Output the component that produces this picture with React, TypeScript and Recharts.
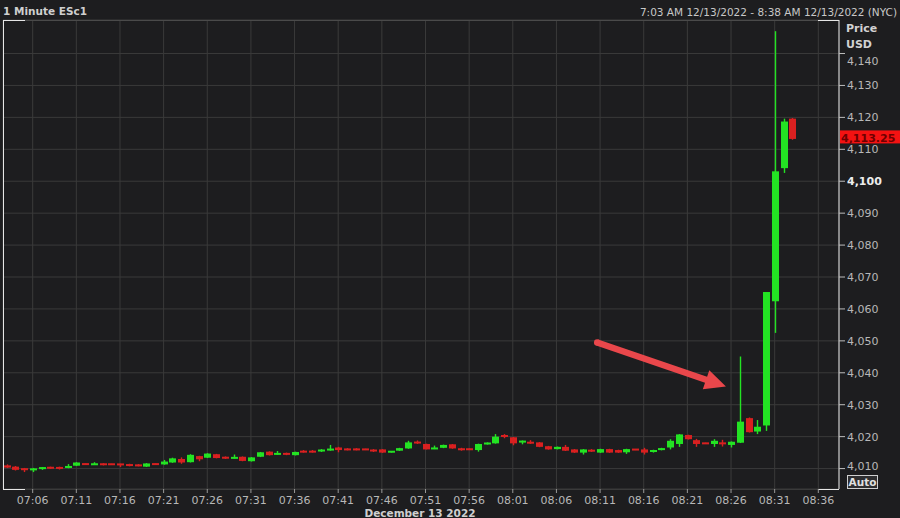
import React from 'react';
import { ComposedChart, Bar, XAxis, YAxis, CartesianGrid, ReferenceLine } from 'recharts';

// ---- data ----
const times = [
  '07:03','07:04','07:05','07:06','07:07','07:08','07:09','07:10','07:11','07:12',
  '07:13','07:14','07:15','07:16','07:17','07:18','07:19','07:20','07:21','07:22',
  '07:23','07:24','07:25','07:26','07:27','07:28','07:29','07:30','07:31','07:32',
  '07:33','07:34','07:35','07:36','07:37','07:38','07:39','07:40','07:41','07:42',
  '07:43','07:44','07:45','07:46','07:47','07:48','07:49','07:50','07:51','07:52',
  '07:53','07:54','07:55','07:56','07:57','07:58','07:59','08:00','08:01','08:02',
  '08:03','08:04','08:05','08:06','08:07','08:08','08:09','08:10','08:11','08:12',
  '08:13','08:14','08:15','08:16','08:17','08:18','08:19','08:20','08:21','08:22',
  '08:23','08:24','08:25','08:26','08:27','08:28','08:29','08:30','08:31','08:32',
  '08:33',
];
const opens = [
  4011.0,4010.6,4010.0,4009.5,4009.9,4010.4,4010.5,4010.2,4010.9,4011.5,
  4011.3,4011.4,4011.4,4011.4,4011.2,4011.1,4010.6,4011.5,4011.3,4011.9,
  4013.0,4012.0,4013.9,4013.4,4014.5,4013.5,4013.2,4013.7,4012.3,4013.7,
  4015.3,4014.4,4014.9,4014.2,4015.4,4015.4,4015.5,4015.7,4016.6,4016.1,
  4016.1,4016.1,4015.8,4016.0,4015.2,4015.6,4016.3,4018.3,4017.7,4016.2,
  4016.5,4017.6,4016.1,4016.1,4015.8,4017.6,4017.9,4020.3,4019.8,4018.2,
  4018.3,4018.2,4017.0,4016.1,4016.8,4016.0,4015.0,4015.7,4015.0,4016.1,
  4015.8,4015.1,4016.0,4016.0,4015.2,4015.8,4016.6,4017.7,4020.5,4018.9,
  4018.0,4017.7,4018.0,4017.4,4018.1,4025.8,4021.6,4023.5,4062.4,4104.1,
  4119.6,
];
const highs = [
  4011.3,4010.8,4010.2,4010.2,4010.5,4010.6,4010.6,4011.4,4012.0,4011.6,
  4012.0,4011.7,4011.5,4011.5,4011.5,4011.4,4011.7,4011.6,4012.7,4013.4,
  4013.5,4014.5,4014.0,4014.8,4014.6,4013.8,4014.4,4013.8,4013.6,4015.2,
  4015.4,4015.5,4015.0,4015.3,4015.8,4015.8,4016.1,4017.4,4016.8,4016.4,
  4016.4,4016.2,4016.1,4016.1,4015.4,4016.5,4018.7,4018.8,4017.8,4017.2,
  4017.5,4017.7,4016.5,4016.3,4017.8,4018.2,4020.8,4020.8,4019.9,4018.8,
  4018.9,4018.3,4017.1,4016.9,4017.4,4016.1,4016.1,4016.1,4016.2,4016.2,
  4015.9,4016.2,4016.1,4016.5,4015.9,4016.5,4019.2,4020.8,4020.6,4019.3,
  4018.1,4019.2,4019.0,4018.5,4045.1,4026.0,4025.2,4065.3,4147.0,4119.6,
  4119.8,
];
const lows = [
  4010.2,4009.4,4008.9,4008.9,4009.6,4009.9,4009.7,4010.1,4010.8,4011.2,
  4011.2,4011.0,4011.2,4010.5,4010.7,4010.7,4010.5,4011.2,4011.2,4011.8,
  4011.5,4011.9,4012.3,4013.3,4013.2,4013.0,4013.1,4012.3,4012.2,4013.6,
  4014.1,4014.3,4014.2,4014.1,4015.0,4015.0,4015.2,4015.6,4015.1,4015.7,
  4015.7,4015.8,4015.2,4014.9,4015.0,4015.5,4016.2,4017.7,4016.0,4016.1,
  4016.4,4016.2,4015.6,4015.8,4015.3,4017.5,4017.8,4019.5,4017.3,4017.6,
  4017.7,4016.7,4015.9,4016.0,4015.5,4014.9,4014.4,4015.2,4014.9,4014.9,
  4014.9,4014.6,4015.8,4014.4,4015.0,4015.7,4016.0,4016.8,4019.1,4016.8,
  4017.7,4016.8,4016.9,4016.6,4018.0,4021.3,4020.8,4021.8,4052.5,4102.6,
  4113.0,
];
const closes = [
  4010.3,4009.6,4009.6,4010.0,4010.4,4010.1,4009.9,4010.8,4011.9,4011.3,
  4011.4,4011.3,4011.3,4011.2,4011.0,4010.9,4011.6,4011.3,4012.2,4013.2,
  4011.9,4014.3,4012.9,4014.7,4013.3,4013.3,4013.5,4012.4,4013.5,4015.1,
  4014.2,4014.8,4014.3,4015.2,4015.2,4015.2,4015.8,4016.2,4015.8,4015.9,
  4015.9,4015.9,4015.5,4015.0,4015.35,4016.4,4018.2,4018.0,4016.0,4016.4,
  4017.4,4016.3,4016.0,4016.0,4017.7,4018.1,4020.0,4020.1,4017.9,4018.7,
  4017.9,4016.8,4016.0,4016.8,4015.6,4015.0,4016.0,4015.5,4016.1,4015.0,
  4015.0,4016.1,4015.9,4015.0,4015.8,4016.4,4018.7,4020.7,4019.2,4017.7,
  4017.8,4018.7,4017.8,4018.4,4024.7,4021.4,4023.1,4065.3,4103.1,4118.7,
  4113.25,
];
const xTickLabels = [
  '07:06','07:11','07:16','07:21','07:26','07:31','07:36','07:41','07:46','07:51',
  '07:56','08:01','08:06','08:11','08:16','08:21','08:26','08:31','08:36',
];
const yTicks = [4010,4020,4030,4040,4050,4060,4070,4080,4090,4100,4110,4120,4130,4140];
const lastPrice = 4113.25;
const arrowFrom = { time: '08:10:40', price: 4049.5 };
const arrowTo = { time: '08:25:25', price: 4035.7 };
const titleText = '1 Minute ESc1';
const rangeText = '7:03 AM 12/13/2022 - 8:38 AM 12/13/2022 (NYC)';
const dateText = 'December 13 2022';

// ---- helpers ----
const toMin = (s: string) => {
  const p = s.split(':').map(Number);
  return p[0] * 60 + p[1] + (p[2] || 0) / 60;
};
const fmtNum = (v: number) => v.toLocaleString('en-US');

const data = times.map((t, i) => ({
  t: toMin(t),
  range: [lows[i], highs[i]],
  o: opens[i], h: highs[i], l: lows[i], c: closes[i],
}));
const xTicks = xTickLabels.map(toMin);
const xLabelOf = (v: number) => xTickLabels[xTicks.indexOf(v)] ?? '';

const W = 900, H = 518;
const M = { top: 20, left: 3, right: 0, bottom: 0 };
const PLOT_R = 839, PLOT_B = 489;
const BG = '#1d1d1f';
const GRID = '#3a3a3a';
const TXT = '#b8b8b8';
const GREEN = '#23e323';
const RED = '#d92020';
const FONT = '"DejaVu Sans", Verdana, sans-serif';

const Candle = (props: any) => {
  const { x, y, width, height, payload } = props;
  if (!payload) return null;
  const { o, h, l, c } = payload;
  const up = c >= o;
  const color = up ? GREEN : RED;
  const top = Math.min(y, y + height);
  const hh = Math.abs(height);
  const ratio = h - l > 0 ? hh / (h - l) : 0;
  const yO = top + (h - o) * ratio;
  const yC = top + (h - c) * ratio;
  let bTop = Math.min(yO, yC);
  let bh = Math.abs(yO - yC);
  if (bh < 2) { bTop = (yO + yC) / 2 - 1; bh = 2; }
  const cx = Math.round(x + width / 2) + 0.5;
  return (
    <g>
      <rect x={cx - 0.7} y={top} width={1.4} height={hh} fill={color} />
      <rect x={cx - 3.5} y={bTop} width={7} height={bh} fill={color} />
    </g>
  );
};

const YTick = (props: any) => {
  const { x, y, payload } = props;
  const v = payload.value;
  const bold = v === 4100;
  const dy = v === 4140 ? 8 : v === 4010 ? -3 : 0;
  return (
    <text x={x} y={y + dy} dy="0.36em" textAnchor="start" fontFamily={FONT} fontSize={11}
      fontWeight={bold ? 'bold' : 'normal'} fill={bold ? '#ececec' : TXT}>
      {fmtNum(v)}
    </text>
  );
};

const XTick = (props: any) => {
  const { x, y, payload } = props;
  return (
    <text x={x} y={y} dy="0.85em" textAnchor="middle" fontFamily={FONT} fontSize={11} fill={TXT}>
      {xLabelOf(payload.value)}
    </text>
  );
};

const LastPriceLabel = (props: any) => {
  const vb = props.viewBox || {};
  const py = vb.y;
  const x0 = (vb.x ?? 0) + (vb.width ?? 0) + 1;
  return (
    <g>
      <rect x={x0} y={py - 8.5} width={W - x0} height={13} fill="#f41212" />
      <text x={x0 + 1} y={py + 2.6} fontFamily={FONT} fontSize={11} fontWeight="bold" fill="#6e0000">
        {fmtNum(lastPrice)}
      </text>
    </g>
  );
};

const Arrow = (props: any) => {
  const { x1, y1, x2, y2 } = props;
  if ([x1, y1, x2, y2].some((v) => typeof v !== 'number' || isNaN(v))) return null;
  const dx = x2 - x1, dy = y2 - y1;
  const len = Math.sqrt(dx * dx + dy * dy);
  const ux = dx / len, uy = dy / len;
  const px = -uy, py = ux;
  const headL = 21, headW = 10, shaftW = 3.2;
  const bx = x2 - ux * headL, by = y2 - uy * headL;
  const pts = [
    [x1 + px * shaftW, y1 + py * shaftW],
    [bx + px * shaftW, by + py * shaftW],
    [bx + px * headW, by + py * headW],
    [x2, y2],
    [bx - px * headW, by - py * headW],
    [bx - px * shaftW, by - py * shaftW],
    [x1 - px * shaftW, y1 - py * shaftW],
  ];
  return (
    <g>
      <polygon points={pts.map((p) => p.join(',')).join(' ')} fill="#e9474b" />
      <circle cx={x1} cy={y1} r={shaftW} fill="#e9474b" />
    </g>
  );
};

export default function App() {
  return (
    <div style={{ position: 'absolute', left: 0, top: 0, width: W, height: H, background: BG, overflow: 'hidden' }}>
      <ComposedChart width={W} height={H} data={data} margin={M}>
        <CartesianGrid stroke={GRID} strokeWidth={1} />
        <XAxis
          dataKey="t"
          type="number"
          domain={[422.6, 518.37]}
          ticks={xTicks}
          allowDataOverflow
          height={29}
          axisLine={false}
          tickLine={{ stroke: '#9a9a9a' }}
          tickSize={4}
          tick={<XTick />}
          interval={0}
        />
        <YAxis
          orientation="right"
          type="number"
          domain={[4003.6, 4150.5]}
          ticks={yTicks}
          allowDataOverflow
          width={61}
          axisLine={{ stroke: '#e6e6e6' }}
          tickLine={{ stroke: '#bdbdbd' }}
          tickSize={6}
          tick={<YTick />}
          interval={0}
        />
        <Bar dataKey="range" barSize={7} shape={<Candle />} isAnimationActive={false} />
        <ReferenceLine
          segment={[
            { x: toMin(arrowFrom.time), y: arrowFrom.price },
            { x: toMin(arrowTo.time), y: arrowTo.price },
          ]}
          shape={<Arrow />}
          ifOverflow="visible"
        />
        <ReferenceLine y={lastPrice} stroke="none" ifOverflow="visible" label={<LastPriceLabel />} />
        {/* frame decorations */}
        <line x1={3} x2={PLOT_R} y1={20.5} y2={20.5} stroke="#4a4a4a" />
        <line x1={3} x2={PLOT_R} y1={PLOT_B + 0.5} y2={PLOT_B + 0.5} stroke="#3a3a3a" />
        <line x1={3.5} x2={3.5} y1={20} y2={PLOT_B + 1} stroke="#e6e6e6" />
        <line x1={3} x2={25} y1={20.5} y2={20.5} stroke="#e6e6e6" />
        <line x1={3} x2={25} y1={PLOT_B + 0.5} y2={PLOT_B + 0.5} stroke="#e6e6e6" />
        <line x1={818} x2={PLOT_R} y1={20.5} y2={20.5} stroke="#e6e6e6" />
        <line x1={818} x2={PLOT_R} y1={PLOT_B + 0.5} y2={PLOT_B + 0.5} stroke="#e6e6e6" />
        {/* header texts */}
        <text x={3} y={15} fontFamily={FONT} fontSize={10.5} fontWeight="bold" fill="#cfcfcf">{titleText}</text>
        <text x={897} y={16} textAnchor="end" fontFamily={FONT} fontSize={10.5} fill="#c8c8c8">{rangeText}</text>
        <text x={846} y={32} fontFamily={FONT} fontSize={11} fontWeight="bold" fill="#d2d2d2">Price</text>
        <text x={846} y={48} fontFamily={FONT} fontSize={11} fontWeight="bold" fill="#d2d2d2">USD</text>
        {/* Auto box */}
        <rect x={847.5} y={475.5} width={30} height={13} fill="#2e2e30" stroke="#cfcfcf" strokeWidth={1} />
        <text x={862.5} y={486} textAnchor="middle" fontFamily={FONT} fontSize={10.5} fontWeight="bold" fill="#e0e0e0">Auto</text>
        {/* date label */}
        <text x={420} y={517} textAnchor="middle" fontFamily={FONT} fontSize={10.5} fontWeight="bold" fill="#cfcfcf">{dateText}</text>
      </ComposedChart>
    </div>
  );
}
